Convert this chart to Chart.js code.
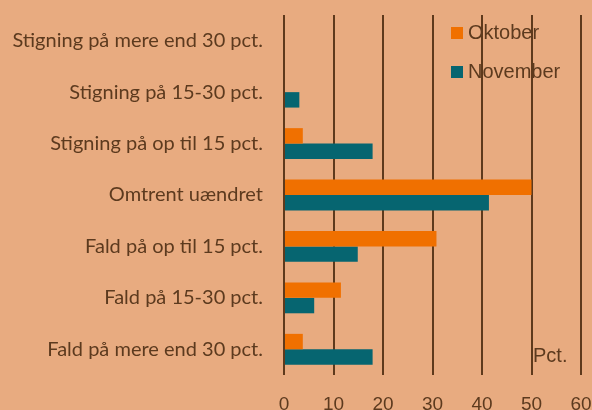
<!DOCTYPE html>
<html>
<head>
<meta charset="utf-8">
<script src="https://cdn.jsdelivr.net/npm/chart.js@4"></script>
<style>
  html, body { margin: 0; padding: 0; background: #E8AB80; overflow: hidden; }
  #wrap { position: relative; width: 592px; height: 410px; }
</style>
</head>
<body>
<div id="wrap"><canvas id="chart"></canvas></div>
<script>
// categories, top to bottom
const categories = [
    "Stigning på mere end 30 pct.",
    "Stigning på 15-30 pct.",
    "Stigning på op til 15 pct.",
    "Omtrent uændret",
    "Fald på op til 15 pct.",
    "Fald på 15-30 pct.",
    "Fald på mere end 30 pct."
];
const oktober = [0, 0, 3.8, 50, 30.8, 11.5, 3.8];
const november = [0, 3.1, 17.9, 41.4, 14.9, 6.1, 17.9];
const xTicks = [0, 10, 20, 30, 40, 50, 60];
const unitLabel = "Pct.";

const textColor = "#5C3A1E";
const gridColor = "#5E3A1C";

// legend + unit label drawn inside the plot area
const overlay = {
    id: "overlay",
    afterDatasetsDraw(chart) {
        const ctx = chart.ctx;
        ctx.save();
        ctx.font = "20px 'Liberation Sans', Arial, sans-serif";
        ctx.textBaseline = "middle";
        chart.data.datasets.forEach((ds, i) => {
            const y = 33 + i * 39;
            ctx.fillStyle = ds.backgroundColor;
            ctx.fillRect(451, y - 6, 12, 12);
            ctx.fillStyle = textColor;
            ctx.fillText(ds.label, 468, y);
        });
        ctx.fillStyle = textColor;
        ctx.fillText(unitLabel, 533, 356);
        ctx.restore();
    }
};

new Chart(document.getElementById("chart"), {
    type: "bar",
    data: {
        labels: categories,
        datasets: [
            { label: "Oktober", data: oktober, backgroundColor: "#F07000" },
            { label: "November", data: november, backgroundColor: "#066570" }
        ]
    },
    options: {
        indexAxis: "y",
        responsive: true,
        maintainAspectRatio: false,
        animation: false,
        categoryPercentage: 0.6,
        barPercentage: 1,
        layout: { padding: { top: 15, right: 11 } },
        plugins: {
            legend: { display: false },
            tooltip: { enabled: false }
        },
        scales: {
            x: {
                min: 0,
                max: 60,
                afterBuildTicks: (s) => { s.ticks = xTicks.map(v => ({ value: v })); },
                afterFit: (s) => { s.height = 35; s.paddingLeft = 0; s.paddingRight = 0; },
                grid: { color: gridColor, lineWidth: 2, drawTicks: false },
                border: { display: false },
                ticks: { color: textColor, padding: 18, font: { family: "'Liberation Sans', Arial", size: 19 } }
            },
            y: {
                afterFit: (s) => { s.width = 284; s.paddingTop = 0; s.paddingBottom = 0; },
                grid: { display: false },
                border: { display: false },
                ticks: { color: textColor, padding: 13, font: { family: "Lato", size: 20 } }
            }
        }
    },
    plugins: [overlay]
});
</script>
</body>
</html>
